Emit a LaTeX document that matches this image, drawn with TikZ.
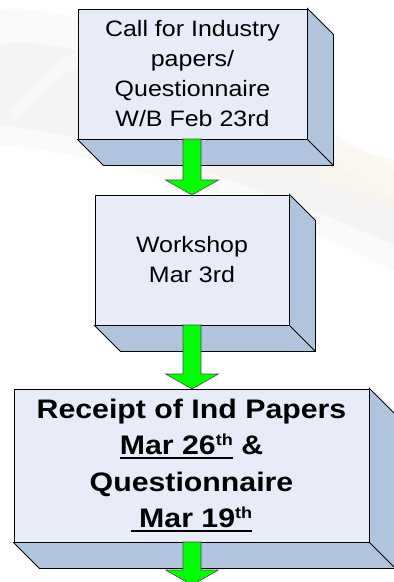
\documentclass[tikz,border=0pt]{standalone}
\usepackage{fontspec}
\setmainfont{Liberation Sans}[FakeStretch=1.12]
\newfontfamily\boxboldfont{Liberation Sans}[FakeStretch=1.13]
\usetikzlibrary{calc}
\definecolor{frontfill}{HTML}{E8ECF8}
\definecolor{sidefill}{HTML}{B0C4DE}
\definecolor{arrowgreen}{HTML}{00FF00}
\definecolor{bggray}{HTML}{E6E3DF}
\definecolor{bgbeige}{HTML}{FBF5EC}
\newcommand\uln[1]{\setbox0\hbox{#1}\rlap{\rule[-4pt]{\wd0}{2pt}}\box0\relax}
\newcommand\sups[1]{\raisebox{9pt}{\fontsize{16}{16}\selectfont #1}}
\newcommand\boxsides[1]{%
  \filldraw[sideface] (#1.north east) -- ++(26,26) -- ($(#1.south east)+(26,26)$)
     -- ($(#1.south west)+(26,26)$) -- (#1.south west) -- (#1.south east) -- cycle;
  \draw[edge] (#1.south east) -- ++(26,26);}
\newcommand\greenarrow[2]{%
  \filldraw[greenarr] ($(#1)+(-9,0)$) -- ($(#2)+(-9,-15)$) -- ($(#2)+(-26.5,-15)$) -- (#2)
     -- ($(#2)+(26.5,-15)$) -- ($(#2)+(9,-15)$) -- ($(#1)+(9,0)$) -- cycle;}
\tikzset{
  frontface/.style={draw=black, line width=0.9pt, fill=frontfill, inner sep=0pt,
     align=center, text=black},
  sideface/.style={draw=black, line width=0.9pt, fill=sidefill, line join=miter},
  edge/.style={draw=black, line width=0.9pt},
  greenarr/.style={fill=arrowgreen, draw=black!70, line width=0.6pt},
  regtext/.style={font=\fontsize{22.3}{30}\selectfont},
  boldtext/.style={font=\boxboldfont\bfseries\fontsize{26.8}{36.5}\selectfont}
}
\begin{document}
\begin{tikzpicture}[x=1pt,y=-1pt]
\useasboundingbox (0,0) rectangle (394,582);
\clip (0,0) rectangle (394,582);
% faint background swoosh
\fill[bggray, opacity=0.18] (0,10) .. controls (60,0) and (220,60) .. (394,170)
   -- (394,270) .. controls (260,205) and (120,155) .. (0,145) -- cycle;
\fill[bggray, opacity=0.25] (0,45) .. controls (60,30) and (220,90) .. (394,200)
   -- (394,245) .. controls (260,185) and (120,140) .. (0,125) -- cycle;
\fill[white, opacity=0.4] (10,110) .. controls (40,75) and (60,60) .. (80,50)
   -- (80,62) .. controls (60,78) and (35,100) .. (15,120) -- cycle;
\fill[bgbeige, opacity=0.6] (320,140) .. controls (350,148) and (375,155) .. (394,160)
   -- (394,205) .. controls (375,198) and (350,190) .. (320,185) -- cycle;
% boxes
\node[frontface, regtext, minimum width=229pt, minimum height=130pt] (b1) at (192.5,74)
  {Call for Industry\\papers/\\Questionnaire\\W/B Feb 23rd};
\node[frontface, regtext, minimum width=194pt, minimum height=130pt] (b2) at (192,260)
  {Workshop\\Mar 3rd};
\node[frontface, boldtext, minimum width=355pt, minimum height=153pt] (b3) at (191.5,465.5)
  {Receipt of Ind Papers\\\uln{Mar 26\sups{th}} \&\\Questionnaire\\\uln{\ Mar 19\sups{th}}};
\boxsides{b1}
\boxsides{b2}
\boxsides{b3}
% arrows
\coordinate (a1s) at (192,139);
\coordinate (a1e) at (192,195);
\coordinate (a2s) at (192,325);
\coordinate (a2e) at (192,389);
\coordinate (a3s) at (192,542);
\coordinate (a3e) at (192,585);
\greenarrow{a1s}{a1e}
\greenarrow{a2s}{a2e}
\greenarrow{a3s}{a3e}
\end{tikzpicture}
\end{document}
